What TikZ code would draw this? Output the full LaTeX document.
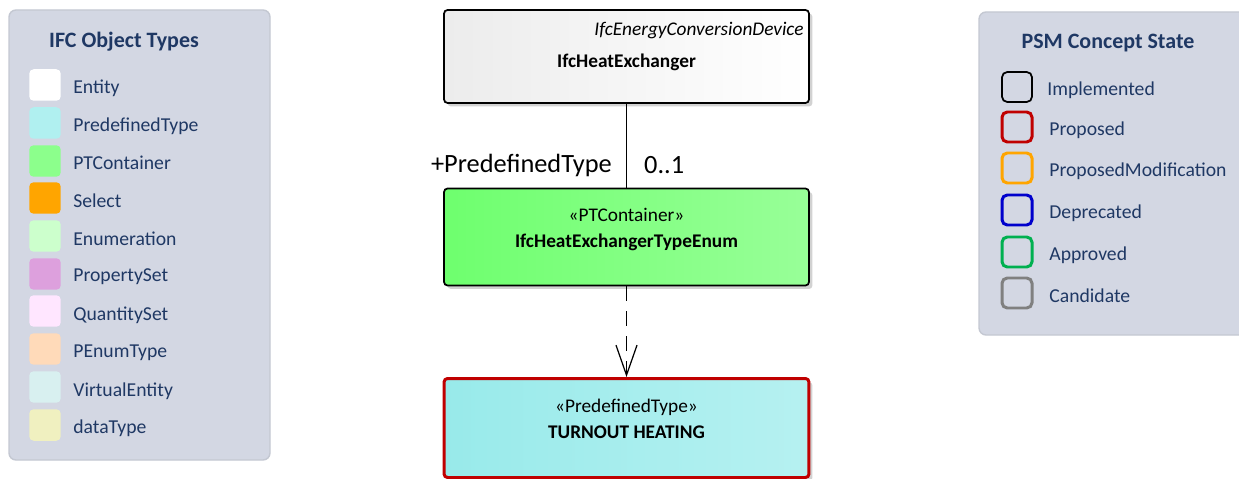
\documentclass[tikz,border=0pt]{standalone}
\usepackage{fontspec}
\setmainfont{Carlito}
\usetikzlibrary{arrows.meta,shadows}

\definecolor{legendbg}{HTML}{D3D7E3}
\definecolor{legendline}{HTML}{C4C8D2}
\definecolor{legendtext}{HTML}{1F3864}
\definecolor{entityc}{HTML}{FFFFFF}
\definecolor{predefc}{HTML}{B0F0F0}
\definecolor{ptcontc}{HTML}{8CFF8C}
\definecolor{selectc}{HTML}{FFA500}
\definecolor{enumc}{HTML}{CCFFCC}
\definecolor{psetc}{HTML}{DDA0DD}
\definecolor{qsetc}{HTML}{FFE6FF}
\definecolor{penumc}{HTML}{FFDAB9}
\definecolor{virtualc}{HTML}{D8F0F0}
\definecolor{datatypec}{HTML}{F0F0C0}
\definecolor{proposedc}{HTML}{C00000}
\definecolor{modifc}{HTML}{FFA500}
\definecolor{deprecc}{HTML}{0000CC}
\definecolor{approvc}{HTML}{00B050}
\definecolor{candidc}{HTML}{808080}
\definecolor{entityleft}{HTML}{ECECEC}
\definecolor{ptcleft}{HTML}{6EFF6E}
\definecolor{ptcright}{HTML}{98FF98}
\definecolor{predefleft}{HTML}{98EAEA}
\definecolor{predefright}{HTML}{B6F1F1}

\begin{document}
\begin{tikzpicture}[
    x=0.02cm, y=-0.02cm,
    legend/.style={draw=legendline, fill=legendbg, rounded corners=4pt, line width=0.8pt},
    legendtitle/.style={text=legendtext, font=\fontsize{12.5}{14}\selectfont\bfseries},
    legenditem/.style={anchor=west, text=legendtext, inner sep=0pt, font=\fontsize{11.2}{13}\selectfont},
    swatch/.style={rectangle, rounded corners=2.5pt, minimum size=0.63cm, inner sep=0pt},
    state/.style={rectangle, rounded corners=3pt, minimum size=0.6cm, inner sep=0pt, fill=legendbg, line width=1.7pt},
    umlbox/.style={rectangle, rounded corners=2pt, minimum width=7.3cm, inner sep=0pt,
        drop shadow={shadow xshift=0.07cm, shadow yshift=-0.07cm, fill=gray!35, opacity=1}},
    boxtext/.style={inner sep=0pt, font=\fontsize{11}{13}\selectfont},
    boxname/.style={boxtext, font=\fontsize{11}{13}\selectfont\bfseries},
    rolelabel/.style={font=\fontsize{15}{17}\selectfont, inner sep=0pt},
    dep/.style={dashed, dash pattern=on 0.3cm off 0.2cm, line width=0.7pt,
        -{Straight Barb[length=0.6cm, width=0.42cm, line width=0.7pt]}}
]
\useasboundingbox (0,0) rectangle (1239,479);
\clip (0,0) rectangle (1239,479);

% IFC object types legend
\path[legend] (9,10) rectangle (270,460);
\node[legendtitle] (ifctitle) at (124,42) {IFC Object Types};
\node[swatch, fill=entityc] (sw1) at (45,85) {};
\node[legenditem] (lt1) at (73,88) {Entity};
\node[swatch, fill=predefc] (sw2) at (45,123) {};
\node[legenditem] (lt2) at (73,126) {PredefinedType};
\node[swatch, fill=ptcontc] (sw3) at (45,161) {};
\node[legenditem] (lt3) at (73,163) {PTContainer};
\node[swatch, fill=selectc] (sw4) at (45,198) {};
\node[legenditem] (lt4) at (73,201) {Select};
\node[swatch, fill=enumc] (sw5) at (45,236) {};
\node[legenditem] (lt5) at (73,239) {Enumeration};
\node[swatch, fill=psetc] (sw6) at (45,274) {};
\node[legenditem] (lt6) at (73,277) {PropertySet};
\node[swatch, fill=qsetc] (sw7) at (45,311) {};
\node[legenditem] (lt7) at (73,315) {QuantitySet};
\node[swatch, fill=penumc] (sw8) at (45,349) {};
\node[legenditem] (lt8) at (73,353) {PEnumType};
\node[swatch, fill=virtualc] (sw9) at (45,387) {};
\node[legenditem] (lt9) at (73,391) {VirtualEntity};
\node[swatch, fill=datatypec] (sw10) at (45,425) {};
\node[legenditem] (lt10) at (73,428) {dataType};

% PSM concept state legend
\path[legend] (979,12) rectangle (1260,335);
\node[legendtitle] (psmtitle) at (1108,43) {PSM Concept State};
\node[state, draw=black, line width=1pt] (st1) at (1017,87) {};
\node[legenditem] (sl1) at (1047,90) {Implemented};
\node[state, draw=proposedc] (st2) at (1017,127) {};
\node[legenditem] (sl2) at (1049,130) {Proposed};
\node[state, draw=modifc] (st3) at (1017,168) {};
\node[legenditem] (sl3) at (1049,171) {ProposedModification};
\node[state, draw=deprecc] (st4) at (1017,210) {};
\node[legenditem] (sl4) at (1049,213) {Deprecated};
\node[state, draw=approvc] (st5) at (1017,252) {};
\node[legenditem] (sl5) at (1049,255) {Approved};
\node[state, draw=candidc] (st6) at (1017,293) {};
\node[legenditem] (sl6) at (1049,296) {Candidate};

% Classes
\node[umlbox, draw=black, line width=1pt, minimum height=1.86cm, left color=entityleft, right color=white] (exch) at (626.5,56.5) {};
\node[boxtext, anchor=east, font=\fontsize{11}{13}\selectfont\itshape] (exchsuper) at (804,31) {IfcEnergyConversionDevice};
\node[boxname] (exchname) at (626.5,62) {IfcHeatExchanger};

\node[umlbox, draw=black, line width=1pt, minimum height=1.94cm, left color=ptcleft, right color=ptcright] (ptc) at (626.5,237) {};
\node[boxtext] (ptcstereo) at (626.5,215) {«PTContainer»};
\node[boxname] (ptcname) at (626.5,242) {IfcHeatExchangerTypeEnum};

\node[umlbox, draw=proposedc, line width=1.7pt, minimum height=1.98cm, left color=predefleft, right color=predefright] (turnout) at (626.5,428) {};
\node[boxtext] (turnstereo) at (626.5,407) {«PredefinedType»};
\node[boxname] (turnname) at (626.5,432) {TURNOUT HEATING};

% Connectors
\draw[line width=0.8pt] (exch) -- node[rolelabel, pos=0.73, left=0.28cm] (role) {+PredefinedType}
    node[rolelabel, pos=0.73, right=0.34cm] (mult) {0..1} (ptc);
\draw[dep] (ptc) -- (turnout);

\end{tikzpicture}
\end{document}
